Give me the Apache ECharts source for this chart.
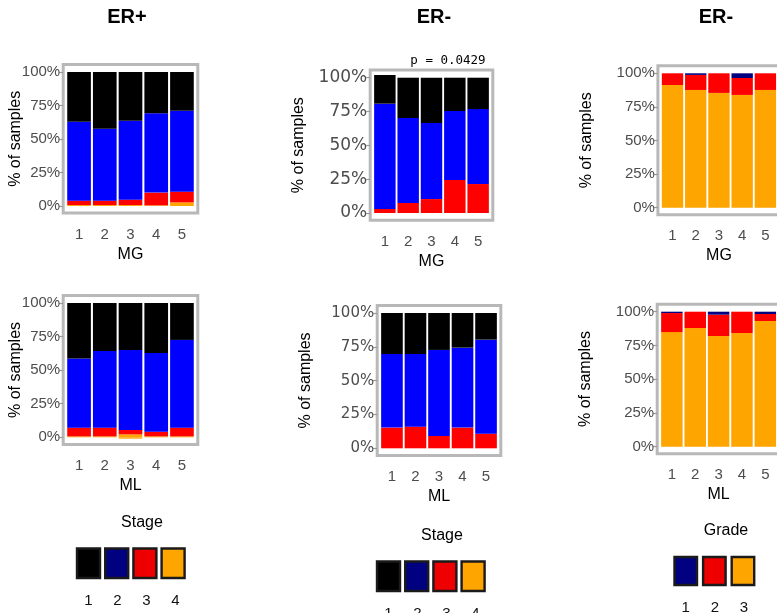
<!DOCTYPE html>
<html>
<head>
<meta charset="utf-8">
<script src="https://cdn.jsdelivr.net/npm/echarts@6/dist/echarts.min.js"></script>
<style>
  html, body { margin: 0; padding: 0; background: #fff; }
  #chart { width: 777px; height: 613px; }
</style>
</head>
<body>
<div id="chart"></div>
<script>
// ---- data ----
const categories = ['1', '2', '3', '4', '5'];
const yTicks = [0, 25, 50, 75, 100];
const stageLevels = ['1', '2', '3', '4'];
const gradeLevels = ['1', '2', '3'];

// bar fills (stage 1..4, grade 1..3) and key swatch fills
const stageBarColors = ['#000000', '#0000ff', '#ff0000', '#ffa500'];
const stageKeyColors = ['#000000', '#000080', '#ee0000', '#ffa500'];
const gradeBarColors = ['#000080', '#ff0000', '#ffa500'];
const gradeKeyColors = ['#000080', '#ee0000', '#ffa500'];

// ER+ , MG groups, stage shares (%)
const erPosMgStage1 = [37.1, 42.3, 36.3, 30.8, 28.9];
const erPosMgStage2 = [58.9, 53.7, 59.0, 59.2, 60.4];
const erPosMgStage3 = [3.3, 3.3, 4.0, 9.5, 8.0];
const erPosMgStage4 = [0.7, 0.7, 0.7, 0.5, 2.7];

// ER- , MG groups, stage shares (%)
const erNegMgStage1 = [21.2, 29.8, 33.5, 24.6, 23.2];
const erNegMgStage2 = [77.8, 62.8, 56.2, 51.0, 55.4];
const erNegMgStage3 = [3.0, 7.4, 10.3, 24.4, 21.4];
const erNegMgPValue = 'p = 0.0429';

// ER- , MG groups, grade shares (%)
const erNegMgGrade1 = [0, 1.2, 0, 3.5, 0];
const erNegMgGrade2 = [8.7, 11.2, 14.6, 12.6, 12.4];
const erNegMgGrade3 = [91.3, 87.6, 85.4, 83.9, 87.6];

// ER+ , ML groups, stage shares (%)
const erPosMlStage1 = [41.4, 35.7, 35.0, 37.2, 27.5];
const erPosMlStage2 = [51.4, 57.1, 59.5, 58.6, 65.3];
const erPosMlStage3 = [6.5, 6.5, 3.3, 3.5, 6.5];
const erPosMlStage4 = [0.7, 0.7, 2.2, 0.7, 0.7];
const erPosMlStage4Below = [0, 0, -1.0, 0, 0];

// ER- , ML groups, stage shares (%)
const erNegMlStage1 = [30.3, 30.3, 27.3, 25.6, 19.7];
const erNegMlStage2 = [54.4, 53.7, 63.6, 59.1, 69.5];
const erNegMlStage3 = [15.3, 16.0, 9.1, 15.3, 10.8];

// ER- , ML groups, grade shares (%)
const erNegMlGrade1 = [1.0, 0, 2.2, 0, 1.7];
const erNegMlGrade2 = [14.1, 12.1, 15.8, 15.8, 5.2];
const erNegMlGrade3 = [84.9, 87.9, 82.0, 84.2, 93.1];

// ---- panels: stacked layers listed bottom to top ----
const panels = [
  { xName: 'MG', layers: [
    [erPosMgStage4, stageBarColors[3]], [erPosMgStage3, stageBarColors[2]],
    [erPosMgStage2, stageBarColors[1]], [erPosMgStage1, stageBarColors[0]] ] },
  { xName: 'MG', layers: [
    [erNegMgStage3, stageBarColors[2]], [erNegMgStage2, stageBarColors[1]],
    [erNegMgStage1, stageBarColors[0]] ] },
  { xName: 'MG', layers: [
    [erNegMgGrade3, gradeBarColors[2]], [erNegMgGrade2, gradeBarColors[1]],
    [erNegMgGrade1, gradeBarColors[0]] ] },
  { xName: 'ML', layers: [
    [erPosMlStage4Below, stageBarColors[3]],
    [erPosMlStage4, stageBarColors[3]], [erPosMlStage3, stageBarColors[2]],
    [erPosMlStage2, stageBarColors[1]], [erPosMlStage1, stageBarColors[0]] ] },
  { xName: 'ML', layers: [
    [erNegMlStage3, stageBarColors[2]], [erNegMlStage2, stageBarColors[1]],
    [erNegMlStage1, stageBarColors[0]] ] },
  { xName: 'ML', layers: [
    [erNegMlGrade3, gradeBarColors[2]], [erNegMlGrade2, gradeBarColors[1]],
    [erNegMlGrade1, gradeBarColors[0]] ] }
];

// ---- layout ----
const FONT = '"Liberation Sans", Arial, sans-serif';
const WIDE_FONT = '"DejaVu Sans", sans-serif';
const Y_MIN = -5.3, Y_MAX = 105.6;
const FRAME_INSET = 3;
const boxes = [
  { y100: 72,    y0: 206,   barL: 67,    barR: 194,   nameGap: 40, tickFont: FONT,      tickSize: 15 },
  { y100: 77.7,  y0: 213,   barL: 374,   barR: 489,   nameGap: 64, tickFont: WIDE_FONT, tickSize: 17 },
  { y100: 73.3,  y0: 207.7, barL: 661.7, barR: 777.6, nameGap: 63, tickFont: FONT,      tickSize: 15 },
  { y100: 303,   y0: 437.3, barL: 67,    barR: 194,   nameGap: 40, tickFont: FONT,      tickSize: 15 },
  { y100: 313,   y0: 448.3, barL: 381,   barR: 497,   nameGap: 64, tickFont: WIDE_FONT, tickSize: 15 },
  { y100: 311.7, y0: 446.7, barL: 661,   barR: 777,   nameGap: 64, tickFont: FONT,      tickSize: 15 }
];

const grids = boxes.map(b => {
  const s = (b.y0 - b.y100) / 100;
  return {
    left: b.barL - 0.8,
    top: b.y100 - (Y_MAX - 100) * s,
    width: b.barR - b.barL + 1.6,
    height: (Y_MAX - Y_MIN) * s
  };
});

const xAxes = panels.map((p, i) => ({
  type: 'category', gridIndex: i, data: categories,
  name: p.xName, nameLocation: 'middle', nameGap: 33, nameMoveOverlap: false,
  nameTextStyle: { fontFamily: FONT, fontSize: 16, color: '#000' },
  axisLine: { show: false },
  axisTick: { alignWithLabel: true, length: 5, lineStyle: { color: '#9a9a9a', width: 1.2 } },
  axisLabel: { fontFamily: FONT, fontSize: 15, color: '#4d4d4d', margin: 14 }
}));

const yAxes = panels.map((p, i) => ({
  type: 'value', gridIndex: i, min: Y_MIN, max: Y_MAX, offset: FRAME_INSET,
  name: '% of samples', nameLocation: 'middle', nameRotate: 90, nameGap: boxes[i].nameGap,
  nameMoveOverlap: false,
  nameTextStyle: { fontFamily: FONT, fontSize: 16, color: '#000' },
  axisLine: { show: false },
  splitLine: { show: false },
  axisTick: { show: true, length: 4, customValues: yTicks, lineStyle: { color: '#9a9a9a', width: 1.2 } },
  axisLabel: { customValues: yTicks, formatter: '{value}%', fontFamily: boxes[i].tickFont,
    fontSize: boxes[i].tickSize, color: '#4d4d4d', margin: 3 }
}));

const series = [];
panels.forEach((p, i) => {
  p.layers.forEach(([values, color]) => {
    series.push({
      type: 'bar', xAxisIndex: i, yAxisIndex: i, stack: 'panel' + i,
      data: values, barCategoryGap: '8%',
      itemStyle: { color: color }, silent: true
    });
  });
});

const graphic = [];
// panel frames
grids.forEach(g => {
  graphic.push({
    type: 'rect', z: -1,
    shape: { x: g.left - FRAME_INSET, y: g.top, width: g.width + 2 * FRAME_INSET, height: g.height },
    style: { fill: 'transparent', stroke: '#b8b8b8', lineWidth: 3 }
  });
});

// column headings and test result
const headings = [['ER+', 127], ['ER-', 434], ['ER-', 716]];
headings.forEach(([t, x]) => {
  graphic.push({ type: 'text', style: { text: t, x: x, y: 17, font: 'bold 20px ' + FONT, fill: '#000', textAlign: 'center', textVerticalAlign: 'middle' } });
});
graphic.push({ type: 'text', style: { text: erNegMgPValue, x: 448, y: 61, font: '12.5px "DejaVu Sans Mono", monospace', fill: '#000', textAlign: 'center', textVerticalAlign: 'middle' } });

// keys
function addKey(title, levels, colors, cx, titleY, boxX, boxY, step, boxW, boxH, labelY, labelShift) {
  graphic.push({ type: 'text', style: { text: title, x: cx, y: titleY, font: '16px ' + FONT, fill: '#000', textAlign: 'center', textVerticalAlign: 'middle' } });
  levels.forEach((lv, k) => {
    const x = boxX + k * step;
    graphic.push({ type: 'rect', shape: { x: x, y: boxY, width: boxW, height: boxH },
      style: { fill: colors[k], stroke: '#1a1a1a', lineWidth: 2.4 } });
    graphic.push({ type: 'text', style: { text: lv, x: x + boxW / 2 + k * labelShift, y: labelY, font: '15px ' + FONT, fill: '#111', textAlign: 'center', textVerticalAlign: 'middle' } });
  });
}
addKey('Stage', stageLevels, stageKeyColors, 142, 523, 77, 548.5, 28.2, 23, 29.5, 601, 0.8);
addKey('Stage', stageLevels, stageKeyColors, 442, 536, 377, 561.5, 28.2, 23, 29.5, 614, 0.8);
addKey('Grade', gradeLevels, gradeKeyColors, 726, 531, 674.5, 557, 28.6, 22.5, 28, 608, 0.5);

const chart = echarts.init(document.getElementById('chart'), null, { renderer: 'canvas' });
chart.setOption({
  animation: false,
  backgroundColor: '#fff',
  grid: grids,
  xAxis: xAxes,
  yAxis: yAxes,
  series: series,
  graphic: graphic
});
</script>
</body>
</html>
